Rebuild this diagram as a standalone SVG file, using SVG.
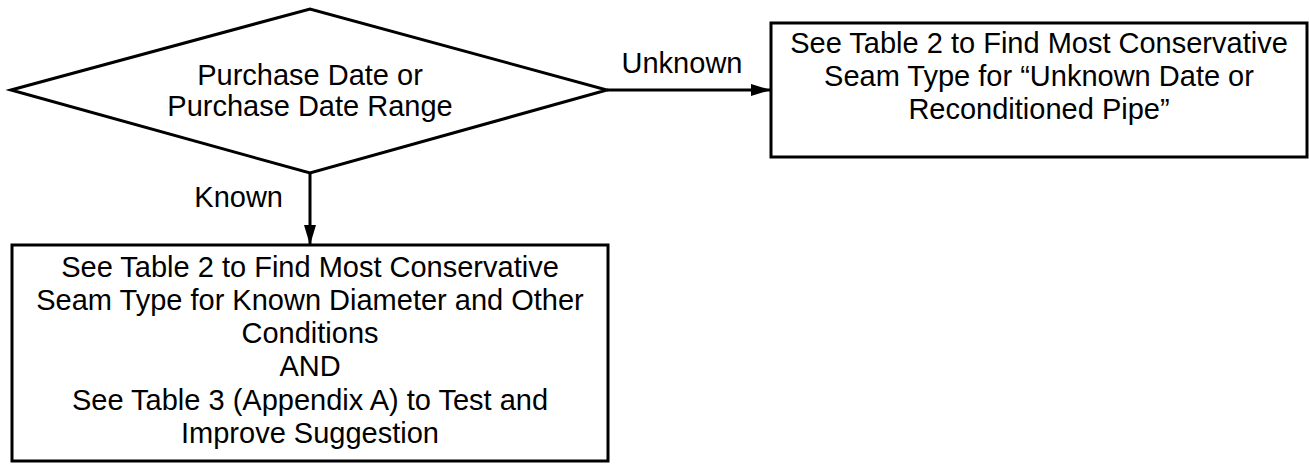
<svg xmlns="http://www.w3.org/2000/svg" width="1309" height="464" viewBox="0 0 1309 464">
<style>
.s{fill:none;stroke:#000;stroke-width:3}
.b{fill:#fff;stroke:#000;stroke-width:3}
text{font-family:"Liberation Sans",Arial,sans-serif;font-size:29px;fill:#000}
.c{text-anchor:middle}
</style>
<defs>
<marker id="ah" viewBox="0 0 20 12" refX="20" refY="6" markerWidth="20" markerHeight="12" markerUnits="userSpaceOnUse" orient="auto">
<path d="M0,0 L20,6 L0,12 z" fill="#000"/>
</marker>
</defs>
<rect width="1309" height="464" fill="#fff"/>
<g id="connectors">
<line class="s" x1="607" y1="90" x2="771" y2="90" marker-end="url(#ah)"/>
<line class="s" x1="310" y1="173" x2="310" y2="245" marker-end="url(#ah)"/>
<text class="c" x="682" y="73">Unknown</text>
<text x="283" y="207" text-anchor="end">Known</text>
</g>
<g id="decision">
<polygon class="b" points="11,90 310,9 607,90 310,173"/>
<text class="c" x="310" y="85">Purchase Date or</text>
<text class="c" x="310" y="116">Purchase Date Range</text>
</g>
<g id="unknown-box">
<rect class="b" x="771" y="23" width="536" height="134"/>
<text class="c" x="1039" y="53">See Table 2 to Find Most Conservative</text>
<text class="c" x="1039" y="86">Seam Type for “Unknown Date or</text>
<text class="c" x="1039" y="119">Reconditioned Pipe”</text>
</g>
<g id="known-box">
<rect class="b" x="12" y="245" width="596" height="216"/>
<text class="c" x="310" y="277">See Table 2 to Find Most Conservative</text>
<text class="c" x="310" y="310">Seam Type for Known Diameter and Other</text>
<text class="c" x="310" y="343">Conditions</text>
<text class="c" x="310" y="376">AND</text>
<text class="c" x="310" y="410">See Table 3 (Appendix A) to Test and</text>
<text class="c" x="310" y="443">Improve Suggestion</text>
</g>
</svg>
